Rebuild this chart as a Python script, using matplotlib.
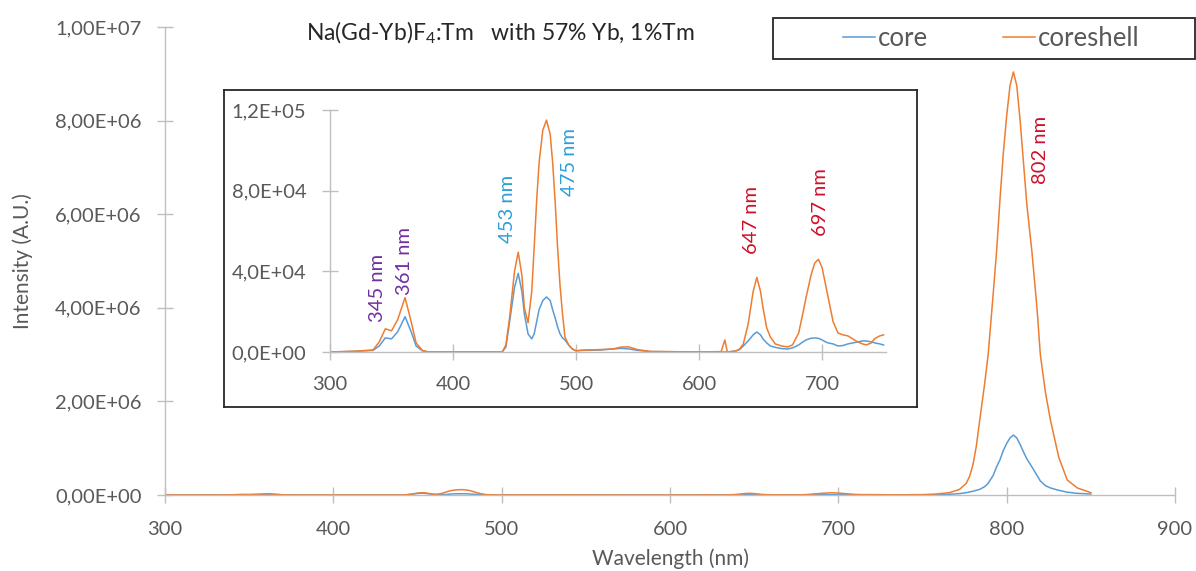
import matplotlib
matplotlib.use('Agg')
import matplotlib.pyplot as plt
from matplotlib.lines import Line2D
from matplotlib.patches import Rectangle
import numpy as np

plt.rcParams['font.family'] = ['Lato', 'DejaVu Sans']
plt.rcParams['mathtext.fontset'] = 'custom'
plt.rcParams['mathtext.rm'] = 'Lato'
plt.rcParams['mathtext.it'] = 'Lato:italic'

# spectrum (wavelength in nm, intensity in A.U.)
wavelength = [300, 320, 335, 340, 345, 350, 355, 361, 366, 370, 375, 380,
              440, 443, 446, 450, 453, 456, 458, 461, 464, 466, 468, 470, 473,
              476, 479, 481, 483, 485, 487, 489, 491, 494, 497, 500, 505, 520,
              530, 537, 543, 550, 560, 600, 618, 621, 623, 630, 633, 636, 640,
              644, 647, 650, 652, 655, 658, 662, 667, 672, 676, 681, 684, 687,
              691, 694, 697, 700, 703, 705, 709, 713, 717, 721, 725, 729, 733,
              736, 740, 743, 747, 750, 758, 766, 772, 776, 778, 780, 782, 784,
              787, 789, 792, 794, 796, 798, 800, 802, 804, 806, 808, 810, 812,
              815, 818, 820, 823, 826, 831, 836, 842, 850]
core = [0, 300, 800, 3000, 7000, 6500, 10000, 17500, 10000, 3000, 600, 0,
        0, 2500, 15000, 32000, 39000, 30000, 19000, 9000, 6500, 9000, 15000,
        21000, 25500, 27300, 25500, 21000, 17000, 12500, 9000, 7000, 6000,
        3500, 1500, 600, 800, 1000, 1500, 1800, 1500, 800, 200, 0, 0, 0, 0,
        500, 1200, 3000, 5500, 8500, 9900, 8500, 6500, 4500, 3000, 2300, 1700,
        1500, 2000, 3500, 4800, 6000, 6800, 7000, 6800, 6000, 5000, 4500,
        4000, 3000, 3200, 4000, 4500, 5000, 5500, 5500, 5000, 4500, 4000,
        3500, 8000, 15000, 30000, 50000, 65000, 80000, 100000, 120000,
        180000, 250000, 420000, 600000, 750000, 950000, 1100000, 1220000,
        1280000, 1220000, 1080000, 920000, 770000, 600000, 420000, 300000,
        200000, 150000, 100000, 60000, 35000, 20000]
coreshell = [0, 400, 1000, 5000, 11500, 10500, 16000, 27000, 15000, 4500,
             800, 0, 0, 3500, 17000, 40000, 49500, 38000, 22000, 14500, 30000,
             52000, 75000, 94000, 110000, 115000, 108000, 94000, 75000, 52000,
             33000, 19000, 7400, 3500, 1500, 600, 900, 1200, 1500, 2500, 2500,
             1200, 300, 0, 200, 6000, 0, 500, 1500, 4000, 14000, 30000, 37000,
             30000, 22000, 12000, 7400, 4000, 3000, 2500, 3500, 9400, 18000,
             27000, 38000, 44000, 46000, 42000, 33000, 27000, 15000, 9400, 8500,
             8000, 6500, 5000, 4000, 3500, 4500, 6700, 8000, 8500, 20000, 50000,
             120000, 250000, 400000, 650000, 1050000, 1600000, 2400000,
             3000000, 4300000, 5200000, 6300000, 7300000, 8100000, 8750000,
             9040000, 8750000, 8000000, 7100000, 6200000, 5200000, 4000000,
             3000000, 2200000, 1600000, 800000, 320000, 150000, 50000]

series_names = ['core', 'coreshell']
series_colors = ['#5B9BD5', '#ED7D31']

main_yticks = [0, 2e6, 4e6, 6e6, 8e6, 1e7]
main_ylabels = ['0,00E+00', '2,00E+06', '4,00E+06', '6,00E+06', '8,00E+06', '1,00E+07']
main_xticks = [300, 400, 500, 600, 700, 800, 900]
inset_yticks = [0, 4e4, 8e4, 1.2e5]
inset_ylabels = ['0,0E+00', '4,0E+04', '8,0E+04', '1,2E+05']
inset_xticks = [300, 400, 500, 600, 700]

peak_labels = [('345 nm', 338.9, 31700, '#7030A0'),
               ('361 nm', 360.7, 45100, '#7030A0'),
               ('453 nm', 444.0, 70900, '#2E9FD8'),
               ('475 nm', 494.3, 94200, '#2E9FD8'),
               ('647 nm', 642.5, 65500, '#D0102A'),
               ('697 nm', 698.4, 74400, '#D0102A')]

wl = np.array(wavelength)
ys = [np.array(core), np.array(coreshell)]

W, H = 1196, 571
fig = plt.figure(figsize=(W / 100, H / 100), dpi=100)

txt = '#595959'
axc = '#BFBFBF'


def style(ax, fs, xpad):
    for s in ['top', 'right']:
        ax.spines[s].set_visible(False)
    for s in ['left', 'bottom']:
        ax.spines[s].set_color(axc)
        ax.spines[s].set_linewidth(1.0)
    ax.tick_params(direction='inout', length=12, width=1.0, color=axc,
                   labelsize=fs, labelcolor=txt)
    ax.tick_params(axis='y', pad=11)
    ax.tick_params(axis='x', pad=xpad)


# main chart
ax = fig.add_axes([165 / W, 1 - 495 / H, (1175 - 165) / W, (495 - 27) / H])
for y, c, n in zip(ys, series_colors, series_names):
    ax.plot(wl, y, color=c, lw=1.1, label=n)
ax.set_xlim(300, 900)
ax.set_ylim(0, 1e7)
ax.set_xticks(main_xticks)
ax.set_yticks(main_yticks)
ax.set_yticklabels(main_ylabels)
style(ax, 14.5, 13)
ax.set_xlabel('Wavelength (nm)', fontsize=15, color=txt, labelpad=7)
ax.set_ylabel('Intensity (A.U.)', fontsize=15, color=txt, labelpad=16)
ax.text(820.2, 7.37e6, '802 nm', rotation=90, ha='center', va='center',
        fontsize=14.5, color='#D0102A')

# inset frame
fr = fig.add_axes([224 / W, 1 - 407 / H, (917 - 224) / W, (407 - 90) / H])
fr.set_xticks([])
fr.set_yticks([])
for s in fr.spines.values():
    s.set_color('#262626')
    s.set_linewidth(1.3)

# inset chart
ax_in = fig.add_axes([330 / W, 1 - 352 / H, (886 - 330) / W, (352 - 110) / H])
ax_in.patch.set_alpha(0)
m = wl <= 750
for y, c in zip(ys, series_colors):
    ax_in.plot(wl[m], y[m], color=c, lw=1.1)
ax_in.set_xlim(300, 752)
ax_in.set_ylim(0, 1.2e5)
ax_in.set_xticks(inset_xticks)
ax_in.set_yticks(inset_yticks)
ax_in.set_yticklabels(inset_ylabels)
style(ax_in, 14.5, 11)
for lab, x, y, c in peak_labels:
    ax_in.text(x, y, lab, rotation=90, ha='center', va='center',
               fontsize=14.5, color=c)

# title
fig.text(306 / W, 1 - 33 / H, r'Na(Gd-Yb)F$_\mathrm{4}$:Tm   with 57% Yb, 1%Tm',
         fontsize=16.5, color='#262626', ha='left', va='center')

# legend
fig.patches.append(Rectangle((773 / W, 1 - 59 / H), (1195 - 773) / W, 41 / H,
                             transform=fig.transFigure, fill=False,
                             edgecolor='#262626', lw=1.3))
handles = [Line2D([], [], color=c, lw=1.1) for c in series_colors]
fig.legend(handles, series_names, loc='center', ncol=2,
           bbox_to_anchor=(991 / W, 1 - 38 / H), frameon=False,
           fontsize=18.5, labelcolor=txt, handlelength=1.25, handletextpad=0.12,
           columnspacing=2.9)

fig.savefig('out.png', dpi=100)
